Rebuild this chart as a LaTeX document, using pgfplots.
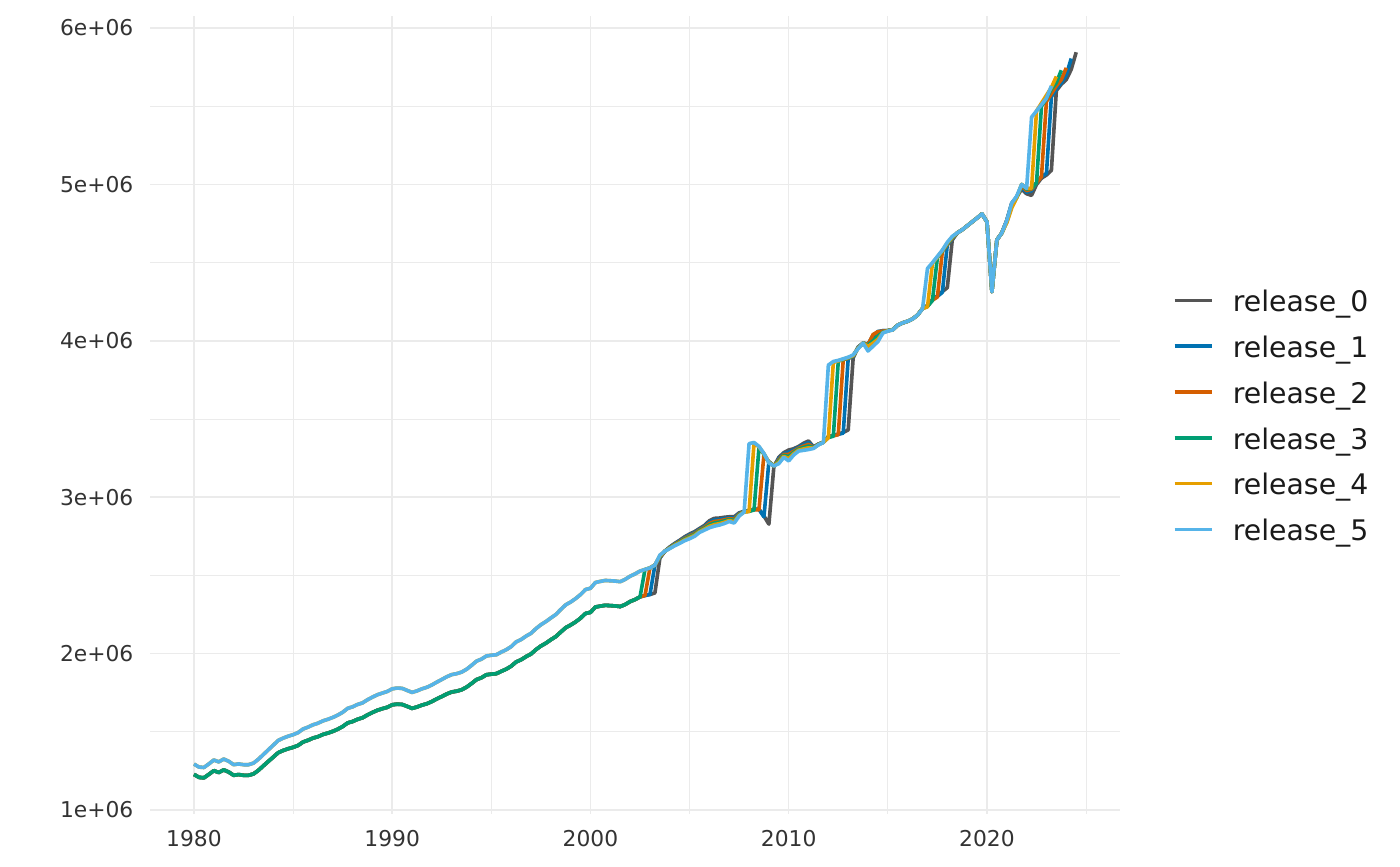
\documentclass[border=0pt]{standalone}
\usepackage{pgfplots}
\pgfplotsset{compat=1.18}
\usepackage{pgfplotstable}
\usepackage{fontspec}
\setmainfont{DejaVu Sans}
\definecolor{r0c}{HTML}{555555}
\definecolor{r1c}{HTML}{0072B2}
\definecolor{r2c}{HTML}{D55E00}
\definecolor{r3c}{HTML}{009E73}
\definecolor{r4c}{HTML}{E69F00}
\definecolor{r5c}{HTML}{56B4E9}
\definecolor{gridc}{HTML}{EBEBEB}
\definecolor{tickc}{HTML}{333333}
\definecolor{legc}{HTML}{1A1A1A}
% values in millions
\pgfplotstableread{
t r0 r1 r2 r3 r4 r5
1980.00 1.228 1.228 1.228 1.228 1.294 1.294
1980.25 1.209 1.209 1.209 1.209 1.275 1.275
1980.50 1.206 1.206 1.206 1.206 1.272 1.272
1980.75 1.228 1.228 1.228 1.228 1.295 1.295
1981.00 1.252 1.252 1.252 1.252 1.320 1.320
1981.25 1.240 1.240 1.240 1.240 1.308 1.308
1981.50 1.257 1.257 1.257 1.257 1.326 1.326
1981.75 1.243 1.243 1.243 1.243 1.312 1.312
1982.00 1.222 1.222 1.222 1.222 1.290 1.290
1982.25 1.227 1.227 1.227 1.227 1.295 1.295
1982.50 1.222 1.222 1.222 1.222 1.290 1.290
1982.75 1.222 1.222 1.222 1.222 1.290 1.290
1983.00 1.231 1.231 1.231 1.231 1.300 1.300
1983.25 1.254 1.254 1.254 1.254 1.325 1.325
1983.50 1.283 1.283 1.283 1.283 1.355 1.355
1983.75 1.311 1.311 1.311 1.311 1.385 1.385
1984.00 1.339 1.339 1.339 1.339 1.415 1.415
1984.25 1.367 1.367 1.367 1.367 1.445 1.445
1984.50 1.381 1.381 1.381 1.381 1.460 1.460
1984.75 1.392 1.392 1.392 1.392 1.472 1.472
1985.00 1.401 1.401 1.401 1.401 1.482 1.482
1985.25 1.413 1.413 1.413 1.413 1.495 1.495
1985.50 1.435 1.435 1.435 1.435 1.518 1.518
1985.75 1.446 1.446 1.446 1.446 1.530 1.530
1986.00 1.460 1.460 1.460 1.460 1.545 1.545
1986.25 1.469 1.469 1.469 1.469 1.555 1.555
1986.50 1.483 1.483 1.483 1.483 1.570 1.570
1986.75 1.492 1.492 1.492 1.492 1.580 1.580
1987.00 1.503 1.503 1.503 1.503 1.592 1.592
1987.25 1.517 1.517 1.517 1.517 1.607 1.607
1987.50 1.534 1.534 1.534 1.534 1.625 1.625
1987.75 1.557 1.557 1.557 1.557 1.650 1.650
1988.00 1.566 1.566 1.566 1.566 1.660 1.660
1988.25 1.580 1.580 1.580 1.580 1.675 1.675
1988.50 1.590 1.590 1.590 1.590 1.685 1.685
1988.75 1.608 1.608 1.608 1.608 1.705 1.705
1989.00 1.624 1.624 1.624 1.624 1.722 1.722
1989.25 1.638 1.638 1.638 1.638 1.737 1.737
1989.50 1.648 1.648 1.648 1.648 1.748 1.748
1989.75 1.657 1.657 1.657 1.657 1.758 1.758
1990.00 1.673 1.673 1.673 1.673 1.775 1.775
1990.25 1.677 1.677 1.677 1.677 1.780 1.780
1990.50 1.675 1.675 1.675 1.675 1.778 1.778
1990.75 1.663 1.663 1.663 1.663 1.765 1.765
1991.00 1.650 1.650 1.650 1.650 1.752 1.752
1991.25 1.659 1.659 1.659 1.659 1.762 1.762
1991.50 1.671 1.671 1.671 1.671 1.775 1.775
1991.75 1.680 1.680 1.680 1.680 1.785 1.785
1992.00 1.694 1.694 1.694 1.694 1.800 1.800
1992.25 1.711 1.711 1.711 1.711 1.818 1.818
1992.50 1.726 1.726 1.726 1.726 1.835 1.835
1992.75 1.742 1.742 1.742 1.742 1.852 1.852
1993.00 1.755 1.755 1.755 1.755 1.866 1.866
1993.25 1.760 1.760 1.760 1.760 1.872 1.872
1993.50 1.769 1.769 1.769 1.769 1.882 1.882
1993.75 1.786 1.786 1.786 1.786 1.900 1.900
1994.00 1.809 1.809 1.809 1.809 1.925 1.925
1994.25 1.834 1.834 1.834 1.834 1.952 1.952
1994.50 1.846 1.846 1.846 1.846 1.965 1.965
1994.75 1.865 1.865 1.865 1.865 1.985 1.985
1995.00 1.869 1.869 1.869 1.869 1.990 1.990
1995.25 1.872 1.872 1.872 1.872 1.993 1.993
1995.50 1.887 1.887 1.887 1.887 2.010 2.010
1995.75 1.901 1.901 1.901 1.901 2.025 2.025
1996.00 1.920 1.920 1.920 1.920 2.045 2.045
1996.25 1.947 1.947 1.947 1.947 2.075 2.075
1996.50 1.961 1.961 1.961 1.961 2.090 2.090
1996.75 1.981 1.981 1.981 1.981 2.112 2.112
1997.00 1.998 1.998 1.998 1.998 2.130 2.130
1997.25 2.026 2.026 2.026 2.026 2.160 2.160
1997.50 2.049 2.049 2.049 2.049 2.185 2.185
1997.75 2.067 2.067 2.067 2.067 2.205 2.205
1998.00 2.089 2.089 2.089 2.089 2.228 2.228
1998.25 2.109 2.109 2.109 2.109 2.250 2.250
1998.50 2.138 2.138 2.138 2.138 2.282 2.282
1998.75 2.166 2.166 2.166 2.166 2.312 2.312
1999.00 2.183 2.183 2.183 2.183 2.330 2.330
1999.25 2.203 2.203 2.203 2.203 2.352 2.352
1999.50 2.227 2.227 2.227 2.227 2.378 2.378
1999.75 2.257 2.257 2.257 2.257 2.410 2.410
2000.00 2.264 2.264 2.264 2.264 2.418 2.418
2000.25 2.298 2.298 2.298 2.298 2.455 2.455
2000.50 2.304 2.304 2.304 2.304 2.462 2.462
2000.75 2.309 2.309 2.309 2.309 2.468 2.468
2001.00 2.307 2.307 2.307 2.307 2.466 2.466
2001.25 2.305 2.305 2.305 2.305 2.464 2.464
2001.50 2.301 2.301 2.301 2.301 2.460 2.460
2001.75 2.314 2.314 2.314 2.314 2.475 2.475
2002.00 2.333 2.333 2.333 2.333 2.495 2.495
2002.25 2.346 2.346 2.346 2.346 2.510 2.510
2002.50 2.363 2.363 2.363 2.363 2.528 2.528
2002.75 2.372 2.372 2.372 2.538 2.538 2.538
2003.00 2.378 2.378 2.548 2.548 2.548 2.548
2003.25 2.388 2.566 2.566 2.566 2.566 2.566
2003.50 2.610 2.614 2.618 2.622 2.626 2.630
2003.75 2.655 2.655 2.655 2.655 2.655 2.655
2004.00 2.682 2.680 2.678 2.676 2.674 2.672
2004.25 2.705 2.702 2.699 2.696 2.693 2.690
2004.50 2.725 2.721 2.717 2.713 2.709 2.705
2004.75 2.747 2.742 2.737 2.732 2.727 2.722
2005.00 2.765 2.759 2.753 2.747 2.741 2.735
2005.25 2.780 2.774 2.768 2.762 2.756 2.750
2005.50 2.800 2.795 2.790 2.785 2.780 2.775
2005.75 2.820 2.814 2.808 2.802 2.796 2.790
2006.00 2.850 2.841 2.832 2.823 2.814 2.805
2006.25 2.865 2.855 2.845 2.835 2.825 2.815
2006.50 2.867 2.858 2.849 2.840 2.831 2.822
2006.75 2.872 2.864 2.856 2.848 2.840 2.832
2007.00 2.875 2.869 2.863 2.857 2.851 2.845
2007.25 2.875 2.867 2.859 2.851 2.843 2.835
2007.50 2.900 2.896 2.892 2.888 2.884 2.880
2007.75 2.910 2.909 2.908 2.907 2.906 2.905
2008.00 2.916 2.914 2.912 2.910 2.908 3.343
2008.25 2.924 2.922 2.920 2.918 3.345 3.350
2008.50 2.924 2.922 2.920 3.318 3.322 3.325
2008.75 2.880 2.875 3.272 3.275 3.278 3.280
2009.00 2.828 3.228 3.226 3.224 3.222 3.220
2009.25 3.195 3.200 3.200 3.200 3.200 3.200
2009.50 3.255 3.247 3.239 3.231 3.223 3.215
2009.75 3.285 3.279 3.273 3.267 3.261 3.255
2010.00 3.302 3.288 3.274 3.260 3.246 3.232
2010.25 3.310 3.302 3.294 3.286 3.278 3.270
2010.50 3.325 3.319 3.313 3.307 3.301 3.295
2010.75 3.345 3.336 3.327 3.318 3.309 3.300
2011.00 3.360 3.349 3.338 3.327 3.316 3.305
2011.25 3.322 3.320 3.318 3.316 3.314 3.312
2011.50 3.340 3.339 3.338 3.337 3.336 3.335
2011.75 3.352 3.352 3.352 3.352 3.352 3.350
2012.00 3.388 3.386 3.384 3.382 3.380 3.845
2012.25 3.396 3.394 3.392 3.390 3.862 3.868
2012.50 3.404 3.402 3.400 3.870 3.872 3.875
2012.75 3.414 3.410 3.879 3.881 3.883 3.885
2013.00 3.430 3.887 3.889 3.891 3.893 3.895
2013.25 3.890 3.900 3.905 3.905 3.905 3.910
2013.50 3.960 3.958 3.956 3.954 3.952 3.950
2013.75 3.985 3.985 3.985 3.985 3.985 3.985
2014.00 3.980 3.978 3.976 3.972 3.965 3.935
2014.25 4.020 4.035 4.040 4.000 3.985 3.965
2014.50 4.050 4.060 4.058 4.030 4.010 3.995
2014.75 4.065 4.065 4.062 4.055 4.052 4.050
2015.00 4.065 4.065 4.065 4.065 4.064 4.062
2015.25 4.072 4.072 4.071 4.071 4.070 4.070
2015.50 4.100 4.100 4.100 4.100 4.100 4.100
2015.75 4.115 4.115 4.115 4.115 4.115 4.115
2016.00 4.125 4.125 4.125 4.125 4.125 4.125
2016.25 4.140 4.140 4.140 4.140 4.140 4.140
2016.50 4.165 4.165 4.165 4.165 4.165 4.165
2016.75 4.207 4.207 4.207 4.207 4.207 4.205
2017.00 4.226 4.224 4.222 4.220 4.217 4.463
2017.25 4.264 4.262 4.260 4.258 4.495 4.500
2017.50 4.288 4.284 4.280 4.532 4.536 4.540
2017.75 4.315 4.310 4.571 4.574 4.577 4.580
2018.00 4.340 4.614 4.618 4.622 4.626 4.630
2018.25 4.645 4.652 4.656 4.660 4.664 4.668
2018.50 4.690 4.690 4.690 4.690 4.690 4.690
2018.75 4.710 4.710 4.710 4.710 4.710 4.710
2019.00 4.735 4.735 4.735 4.735 4.735 4.735
2019.25 4.760 4.760 4.760 4.760 4.760 4.760
2019.50 4.785 4.785 4.785 4.785 4.785 4.785
2019.75 4.812 4.812 4.812 4.812 4.812 4.812
2020.00 4.760 4.760 4.760 4.760 4.760 4.760
2020.25 4.314 4.314 4.314 4.314 4.314 4.314
2020.50 4.645 4.645 4.645 4.645 4.645 4.645
2020.75 4.690 4.690 4.690 4.690 4.690 4.690
2021.00 4.770 4.770 4.768 4.760 4.755 4.770
2021.25 4.880 4.878 4.870 4.860 4.850 4.880
2021.50 4.920 4.920 4.920 4.915 4.915 4.925
2021.75 4.970 4.980 4.990 5.000 5.000 5.000
2022.00 4.940 4.950 4.960 4.970 4.975 4.975
2022.25 4.930 4.960 4.970 4.975 4.975 5.430
2022.50 5.000 5.010 5.010 5.010 5.470 5.470
2022.75 5.040 5.050 5.050 5.500 5.520 5.510
2023.00 5.060 5.070 5.530 5.550 5.570 5.550
2023.25 5.090 5.560 5.580 5.610 5.620 5.630
2023.50 5.600 5.610 5.630 5.650 5.690 nan
2023.75 5.640 5.650 5.670 5.730 nan nan
2024.00 5.670 5.700 5.745 nan nan nan
2024.25 5.735 5.805 nan nan nan nan
2024.50 5.845 nan nan nan nan nan
}\gdpdata

\begin{document}
\begin{tikzpicture}[x=1pt,y=1pt]
\path[use as bounding box] (0,0) rectangle (504,311.76);
\begin{axis}[
  at={(53.96pt,18.68pt)}, anchor=south west,
  scale only axis, width=349.34pt, height=287.39pt,
  xmin=1977.775, xmax=2026.725, ymin=0.974, ymax=6.078,
  axis line style={draw=none},
  major tick length=0pt, minor tick length=0pt,
  tick style={draw=none},
  xtick={1980,1990,2000,2010,2020},
  xticklabels={1980,1990,2000,2010,2020},
  minor xtick={1985,1995,2005,2015,2025},
  ytick={1,2,3,4,5,6},
  yticklabels={1e+06,2e+06,3e+06,4e+06,5e+06,6e+06},
  minor ytick={1.5,2.5,3.5,4.5,5.5},
  grid=both,
  major grid style={color=gridc, line width=0.55pt},
  minor grid style={color=gridc, line width=0.3pt},
  ticklabel style={font=\fontsize{7.85}{9}\selectfont, text=tickc},
  xticklabel style={anchor=north, inner sep=0pt, yshift=-5.76pt},
  yticklabel style={anchor=east, inner sep=0pt, xshift=-5.76pt},
  unbounded coords=jump,
  legend cell align=left,
  legend image code/.code={\draw[#1, line width=1.25pt] (0pt,1.3pt) -- (13.3pt,1.3pt);},
  legend style={at={(1.0543,0.4955)}, anchor=west, draw=none, fill=none,
    inner sep=0pt, outer sep=0pt, text=legc,
    font=\fontsize{10.2}{12}\selectfont,
    row sep=6pt, column sep=7.0pt,
    nodes={inner sep=0pt, text height=8pt, text depth=2.5pt}},
  every axis plot/.append style={line width=1.3pt, line join=round},
]
\addplot[r0c] table[x=t, y=r0] {\gdpdata};
\addlegendentry{release\_0}
\addplot[r1c] table[x=t, y=r1] {\gdpdata};
\addlegendentry{release\_1}
\addplot[r2c] table[x=t, y=r2] {\gdpdata};
\addlegendentry{release\_2}
\addplot[r3c] table[x=t, y=r3] {\gdpdata};
\addlegendentry{release\_3}
\addplot[r4c] table[x=t, y=r4] {\gdpdata};
\addlegendentry{release\_4}
\addplot[r5c] table[x=t, y=r5] {\gdpdata};
\addlegendentry{release\_5}
\end{axis}
\end{tikzpicture}
\end{document}
